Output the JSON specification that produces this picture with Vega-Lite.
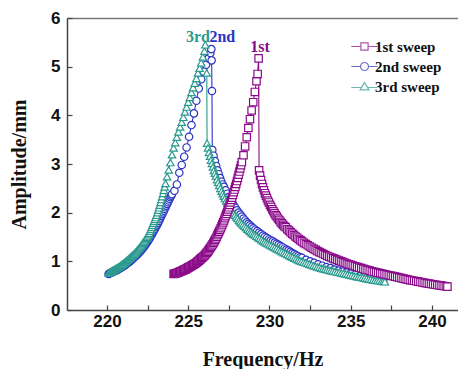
{
  "$schema": "https://vega.github.io/schema/vega-lite/v6.json",
  "width": 391,
  "height": 292,
  "autosize": {"type": "none"},
  "padding": {"left": 67, "top": 18, "right": 0, "bottom": 59},
  "background": "white",
  "config": {"view": {"stroke": null}},
  "data": {"values": [
{"s":"2nd sweep","f":220.10,"a":0.74},{"s":"2nd sweep","f":220.15,"a":0.75},{"s":"2nd sweep","f":220.20,"a":0.76},{"s":"2nd sweep","f":220.25,"a":0.765},{"s":"2nd sweep","f":220.30,"a":0.77},{"s":"2nd sweep","f":220.35,"a":0.78},{"s":"2nd sweep","f":220.40,"a":0.79},{"s":"2nd sweep","f":220.45,"a":0.80},{"s":"2nd sweep","f":220.50,"a":0.81},{"s":"2nd sweep","f":220.55,"a":0.815},
{"s":"2nd sweep","f":220.60,"a":0.82},{"s":"2nd sweep","f":220.65,"a":0.83},{"s":"2nd sweep","f":220.70,"a":0.84},{"s":"2nd sweep","f":220.75,"a":0.85},{"s":"2nd sweep","f":220.80,"a":0.86},{"s":"2nd sweep","f":220.85,"a":0.87},{"s":"2nd sweep","f":220.90,"a":0.88},{"s":"2nd sweep","f":220.95,"a":0.89},{"s":"2nd sweep","f":221.00,"a":0.90},{"s":"2nd sweep","f":221.05,"a":0.91},
{"s":"2nd sweep","f":221.10,"a":0.92},{"s":"2nd sweep","f":221.15,"a":0.935},{"s":"2nd sweep","f":221.20,"a":0.95},{"s":"2nd sweep","f":221.25,"a":0.96},{"s":"2nd sweep","f":221.30,"a":0.97},{"s":"2nd sweep","f":221.35,"a":0.985},{"s":"2nd sweep","f":221.40,"a":1.00},{"s":"2nd sweep","f":221.45,"a":1.015},{"s":"2nd sweep","f":221.50,"a":1.03},{"s":"2nd sweep","f":221.55,"a":1.045},
{"s":"2nd sweep","f":221.60,"a":1.06},{"s":"2nd sweep","f":221.65,"a":1.075},{"s":"2nd sweep","f":221.70,"a":1.09},{"s":"2nd sweep","f":221.75,"a":1.105},{"s":"2nd sweep","f":221.80,"a":1.12},{"s":"2nd sweep","f":221.85,"a":1.135},{"s":"2nd sweep","f":221.90,"a":1.15},{"s":"2nd sweep","f":221.95,"a":1.17},{"s":"2nd sweep","f":222.00,"a":1.19},{"s":"2nd sweep","f":222.05,"a":1.21},
{"s":"2nd sweep","f":222.10,"a":1.23},{"s":"2nd sweep","f":222.15,"a":1.25},{"s":"2nd sweep","f":222.20,"a":1.27},{"s":"2nd sweep","f":222.25,"a":1.29},{"s":"2nd sweep","f":222.30,"a":1.31},{"s":"2nd sweep","f":222.35,"a":1.335},{"s":"2nd sweep","f":222.40,"a":1.36},{"s":"2nd sweep","f":222.45,"a":1.385},{"s":"2nd sweep","f":222.50,"a":1.41},{"s":"2nd sweep","f":222.55,"a":1.435},
{"s":"2nd sweep","f":222.60,"a":1.46},{"s":"2nd sweep","f":222.65,"a":1.49},{"s":"2nd sweep","f":222.70,"a":1.52},{"s":"2nd sweep","f":222.75,"a":1.55},{"s":"2nd sweep","f":222.80,"a":1.58},{"s":"2nd sweep","f":222.85,"a":1.61},{"s":"2nd sweep","f":222.90,"a":1.64},{"s":"2nd sweep","f":222.95,"a":1.67},{"s":"2nd sweep","f":223.00,"a":1.70},{"s":"2nd sweep","f":223.05,"a":1.73},
{"s":"2nd sweep","f":223.10,"a":1.76},{"s":"2nd sweep","f":223.15,"a":1.795},{"s":"2nd sweep","f":223.20,"a":1.83},{"s":"2nd sweep","f":223.25,"a":1.865},{"s":"2nd sweep","f":223.30,"a":1.90},{"s":"2nd sweep","f":223.35,"a":1.935},{"s":"2nd sweep","f":223.40,"a":1.97},{"s":"2nd sweep","f":223.45,"a":2.005},{"s":"2nd sweep","f":223.50,"a":2.04},{"s":"2nd sweep","f":223.55,"a":2.075},
{"s":"2nd sweep","f":223.60,"a":2.11},{"s":"2nd sweep","f":223.65,"a":2.145},{"s":"2nd sweep","f":223.70,"a":2.18},{"s":"2nd sweep","f":223.75,"a":2.215},{"s":"2nd sweep","f":223.80,"a":2.25},{"s":"2nd sweep","f":223.85,"a":2.285},{"s":"2nd sweep","f":223.90,"a":2.32},{"s":"2nd sweep","f":223.95,"a":2.35},{"s":"2nd sweep","f":224.00,"a":2.38},{"s":"2nd sweep","f":224.15,"a":2.45},
{"s":"2nd sweep","f":224.3,"a":2.58},{"s":"2nd sweep","f":224.45,"a":2.82},{"s":"2nd sweep","f":224.6,"a":2.98},{"s":"2nd sweep","f":224.75,"a":3.15},{"s":"2nd sweep","f":224.9,"a":3.34},{"s":"2nd sweep","f":225.05,"a":3.56},{"s":"2nd sweep","f":225.2,"a":3.80},{"s":"2nd sweep","f":225.35,"a":4.04},{"s":"2nd sweep","f":225.5,"a":4.30},{"s":"2nd sweep","f":225.65,"a":4.55},
{"s":"2nd sweep","f":225.8,"a":4.74},{"s":"2nd sweep","f":225.95,"a":4.90},{"s":"2nd sweep","f":226.1,"a":5.04},{"s":"2nd sweep","f":226.25,"a":5.17},{"s":"2nd sweep","f":226.36,"a":5.28},{"s":"2nd sweep","f":226.42,"a":5.36},{"s":"2nd sweep","f":226.44,"a":5.13},{"s":"2nd sweep","f":226.46,"a":4.50},{"s":"2nd sweep","f":226.48,"a":3.29},{"s":"2nd sweep","f":226.56,"a":3.17},
{"s":"2nd sweep","f":226.64,"a":3.06},{"s":"2nd sweep","f":226.72,"a":2.96},{"s":"2nd sweep","f":226.80,"a":2.87},{"s":"2nd sweep","f":226.88,"a":2.79},{"s":"2nd sweep","f":226.96,"a":2.71},{"s":"2nd sweep","f":227.04,"a":2.64},{"s":"2nd sweep","f":227.12,"a":2.58},{"s":"2nd sweep","f":227.20,"a":2.53},{"s":"2nd sweep","f":227.30,"a":2.46},{"s":"2nd sweep","f":227.40,"a":2.39},
{"s":"2nd sweep","f":227.50,"a":2.32},{"s":"2nd sweep","f":227.60,"a":2.26},{"s":"2nd sweep","f":227.70,"a":2.20},{"s":"2nd sweep","f":227.80,"a":2.15},{"s":"2nd sweep","f":227.90,"a":2.10},{"s":"2nd sweep","f":228.00,"a":2.05},{"s":"2nd sweep","f":228.10,"a":2.00},{"s":"2nd sweep","f":228.20,"a":1.96},{"s":"2nd sweep","f":228.30,"a":1.92},{"s":"2nd sweep","f":228.40,"a":1.88},
{"s":"2nd sweep","f":228.50,"a":1.84},{"s":"2nd sweep","f":228.60,"a":1.80},{"s":"2nd sweep","f":228.70,"a":1.77},{"s":"2nd sweep","f":228.80,"a":1.74},{"s":"2nd sweep","f":228.90,"a":1.71},{"s":"2nd sweep","f":229.00,"a":1.68},{"s":"2nd sweep","f":229.12,"a":1.65},{"s":"2nd sweep","f":229.24,"a":1.62},{"s":"2nd sweep","f":229.36,"a":1.59},{"s":"2nd sweep","f":229.48,"a":1.56},
{"s":"2nd sweep","f":229.60,"a":1.53},{"s":"2nd sweep","f":229.72,"a":1.505},{"s":"2nd sweep","f":229.84,"a":1.48},{"s":"2nd sweep","f":229.96,"a":1.455},{"s":"2nd sweep","f":230.08,"a":1.43},{"s":"2nd sweep","f":230.20,"a":1.41},{"s":"2nd sweep","f":230.32,"a":1.385},{"s":"2nd sweep","f":230.44,"a":1.36},{"s":"2nd sweep","f":230.56,"a":1.34},{"s":"2nd sweep","f":230.68,"a":1.315},
{"s":"2nd sweep","f":230.80,"a":1.29},{"s":"2nd sweep","f":230.92,"a":1.265},{"s":"2nd sweep","f":231.04,"a":1.24},{"s":"2nd sweep","f":231.16,"a":1.22},{"s":"2nd sweep","f":231.28,"a":1.195},{"s":"2nd sweep","f":231.40,"a":1.17},{"s":"2nd sweep","f":231.52,"a":1.15},{"s":"2nd sweep","f":231.64,"a":1.125},{"s":"2nd sweep","f":231.76,"a":1.105},{"s":"2nd sweep","f":231.88,"a":1.085},
{"s":"2nd sweep","f":232.00,"a":1.07},{"s":"2nd sweep","f":232.25,"a":1.03},{"s":"2nd sweep","f":232.5,"a":1.00},{"s":"2nd sweep","f":232.75,"a":0.97},{"s":"2nd sweep","f":233.0,"a":0.94},{"s":"2nd sweep","f":233.25,"a":0.91},{"s":"2nd sweep","f":233.5,"a":0.88},{"s":"2nd sweep","f":233.75,"a":0.86},{"s":"2nd sweep","f":234.0,"a":0.83},{"s":"2nd sweep","f":234.25,"a":0.81},
{"s":"2nd sweep","f":234.5,"a":0.79},{"s":"2nd sweep","f":234.75,"a":0.77},{"s":"2nd sweep","f":235.0,"a":0.75},{"s":"2nd sweep","f":235.3,"a":0.73},{"s":"2nd sweep","f":235.6,"a":0.71},{"s":"2nd sweep","f":235.9,"a":0.69},{"s":"2nd sweep","f":236.2,"a":0.66},{"s":"2nd sweep","f":236.5,"a":0.64},{"s":"2nd sweep","f":236.8,"a":0.62},{"s":"2nd sweep","f":237.0,"a":0.60},

{"s":"3rd sweep","f":220.10,"a":0.76},{"s":"3rd sweep","f":220.15,"a":0.77},{"s":"3rd sweep","f":220.20,"a":0.78},{"s":"3rd sweep","f":220.25,"a":0.79},{"s":"3rd sweep","f":220.30,"a":0.80},{"s":"3rd sweep","f":220.35,"a":0.81},{"s":"3rd sweep","f":220.40,"a":0.82},{"s":"3rd sweep","f":220.45,"a":0.83},{"s":"3rd sweep","f":220.50,"a":0.84},{"s":"3rd sweep","f":220.55,"a":0.85},
{"s":"3rd sweep","f":220.60,"a":0.86},{"s":"3rd sweep","f":220.65,"a":0.87},{"s":"3rd sweep","f":220.70,"a":0.88},{"s":"3rd sweep","f":220.75,"a":0.89},{"s":"3rd sweep","f":220.80,"a":0.90},{"s":"3rd sweep","f":220.85,"a":0.915},{"s":"3rd sweep","f":220.90,"a":0.93},{"s":"3rd sweep","f":220.95,"a":0.94},{"s":"3rd sweep","f":221.00,"a":0.95},{"s":"3rd sweep","f":221.05,"a":0.965},
{"s":"3rd sweep","f":221.10,"a":0.98},{"s":"3rd sweep","f":221.15,"a":0.995},{"s":"3rd sweep","f":221.20,"a":1.01},{"s":"3rd sweep","f":221.25,"a":1.025},{"s":"3rd sweep","f":221.30,"a":1.04},{"s":"3rd sweep","f":221.35,"a":1.055},{"s":"3rd sweep","f":221.40,"a":1.07},{"s":"3rd sweep","f":221.45,"a":1.085},{"s":"3rd sweep","f":221.50,"a":1.10},{"s":"3rd sweep","f":221.55,"a":1.115},
{"s":"3rd sweep","f":221.60,"a":1.13},{"s":"3rd sweep","f":221.65,"a":1.145},{"s":"3rd sweep","f":221.70,"a":1.16},{"s":"3rd sweep","f":221.75,"a":1.18},{"s":"3rd sweep","f":221.80,"a":1.20},{"s":"3rd sweep","f":221.85,"a":1.22},{"s":"3rd sweep","f":221.90,"a":1.24},{"s":"3rd sweep","f":221.95,"a":1.26},{"s":"3rd sweep","f":222.00,"a":1.28},{"s":"3rd sweep","f":222.05,"a":1.30},
{"s":"3rd sweep","f":222.10,"a":1.32},{"s":"3rd sweep","f":222.15,"a":1.345},{"s":"3rd sweep","f":222.20,"a":1.37},{"s":"3rd sweep","f":222.25,"a":1.395},{"s":"3rd sweep","f":222.30,"a":1.42},{"s":"3rd sweep","f":222.35,"a":1.445},{"s":"3rd sweep","f":222.40,"a":1.47},{"s":"3rd sweep","f":222.45,"a":1.495},{"s":"3rd sweep","f":222.50,"a":1.52},{"s":"3rd sweep","f":222.55,"a":1.55},
{"s":"3rd sweep","f":222.60,"a":1.58},{"s":"3rd sweep","f":222.65,"a":1.62},{"s":"3rd sweep","f":222.70,"a":1.66},{"s":"3rd sweep","f":222.75,"a":1.70},{"s":"3rd sweep","f":222.80,"a":1.74},{"s":"3rd sweep","f":222.85,"a":1.78},{"s":"3rd sweep","f":222.90,"a":1.82},{"s":"3rd sweep","f":222.95,"a":1.86},{"s":"3rd sweep","f":223.00,"a":1.90},{"s":"3rd sweep","f":223.05,"a":1.95},
{"s":"3rd sweep","f":223.10,"a":2.00},{"s":"3rd sweep","f":223.15,"a":2.05},{"s":"3rd sweep","f":223.20,"a":2.10},{"s":"3rd sweep","f":223.25,"a":2.155},{"s":"3rd sweep","f":223.30,"a":2.21},{"s":"3rd sweep","f":223.35,"a":2.27},{"s":"3rd sweep","f":223.40,"a":2.33},{"s":"3rd sweep","f":223.45,"a":2.395},{"s":"3rd sweep","f":223.50,"a":2.46},{"s":"3rd sweep","f":223.55,"a":2.53},
{"s":"3rd sweep","f":223.60,"a":2.60},{"s":"3rd sweep","f":223.7,"a":2.74},{"s":"3rd sweep","f":223.8,"a":2.88},{"s":"3rd sweep","f":223.9,"a":3.03},{"s":"3rd sweep","f":224.0,"a":3.19},{"s":"3rd sweep","f":224.1,"a":3.33},{"s":"3rd sweep","f":224.2,"a":3.44},{"s":"3rd sweep","f":224.3,"a":3.55},{"s":"3rd sweep","f":224.4,"a":3.66},{"s":"3rd sweep","f":224.5,"a":3.76},
{"s":"3rd sweep","f":224.6,"a":3.86},{"s":"3rd sweep","f":224.7,"a":3.96},{"s":"3rd sweep","f":224.8,"a":4.07},{"s":"3rd sweep","f":224.9,"a":4.17},{"s":"3rd sweep","f":225.0,"a":4.27},{"s":"3rd sweep","f":225.1,"a":4.37},{"s":"3rd sweep","f":225.2,"a":4.47},{"s":"3rd sweep","f":225.3,"a":4.57},{"s":"3rd sweep","f":225.4,"a":4.66},{"s":"3rd sweep","f":225.5,"a":4.76},
{"s":"3rd sweep","f":225.6,"a":4.87},{"s":"3rd sweep","f":225.7,"a":4.97},{"s":"3rd sweep","f":225.8,"a":5.08},{"s":"3rd sweep","f":225.9,"a":5.20},{"s":"3rd sweep","f":226.0,"a":5.32},{"s":"3rd sweep","f":226.05,"a":5.45},{"s":"3rd sweep","f":226.14,"a":4.87},{"s":"3rd sweep","f":226.16,"a":3.43},{"s":"3rd sweep","f":226.22,"a":3.33},{"s":"3rd sweep","f":226.28,"a":3.24},
{"s":"3rd sweep","f":226.34,"a":3.16},{"s":"3rd sweep","f":226.40,"a":3.08},{"s":"3rd sweep","f":226.46,"a":3.01},{"s":"3rd sweep","f":226.52,"a":2.94},{"s":"3rd sweep","f":226.58,"a":2.87},{"s":"3rd sweep","f":226.64,"a":2.81},{"s":"3rd sweep","f":226.70,"a":2.75},{"s":"3rd sweep","f":226.77,"a":2.68},{"s":"3rd sweep","f":226.84,"a":2.62},{"s":"3rd sweep","f":226.91,"a":2.56},
{"s":"3rd sweep","f":226.98,"a":2.50},{"s":"3rd sweep","f":227.05,"a":2.44},{"s":"3rd sweep","f":227.12,"a":2.39},{"s":"3rd sweep","f":227.19,"a":2.34},{"s":"3rd sweep","f":227.26,"a":2.29},{"s":"3rd sweep","f":227.33,"a":2.24},{"s":"3rd sweep","f":227.40,"a":2.20},{"s":"3rd sweep","f":227.48,"a":2.15},{"s":"3rd sweep","f":227.56,"a":2.11},{"s":"3rd sweep","f":227.64,"a":2.07},
{"s":"3rd sweep","f":227.72,"a":2.02},{"s":"3rd sweep","f":227.80,"a":1.98},{"s":"3rd sweep","f":227.88,"a":1.95},{"s":"3rd sweep","f":227.96,"a":1.91},{"s":"3rd sweep","f":228.04,"a":1.88},{"s":"3rd sweep","f":228.12,"a":1.84},{"s":"3rd sweep","f":228.20,"a":1.81},{"s":"3rd sweep","f":228.29,"a":1.78},{"s":"3rd sweep","f":228.38,"a":1.75},{"s":"3rd sweep","f":228.47,"a":1.72},
{"s":"3rd sweep","f":228.56,"a":1.69},{"s":"3rd sweep","f":228.65,"a":1.66},{"s":"3rd sweep","f":228.74,"a":1.635},{"s":"3rd sweep","f":228.83,"a":1.61},{"s":"3rd sweep","f":228.92,"a":1.585},{"s":"3rd sweep","f":229.01,"a":1.56},{"s":"3rd sweep","f":229.10,"a":1.54},{"s":"3rd sweep","f":229.20,"a":1.515},{"s":"3rd sweep","f":229.30,"a":1.49},{"s":"3rd sweep","f":229.40,"a":1.47},
{"s":"3rd sweep","f":229.50,"a":1.445},{"s":"3rd sweep","f":229.60,"a":1.42},{"s":"3rd sweep","f":229.70,"a":1.40},{"s":"3rd sweep","f":229.80,"a":1.38},{"s":"3rd sweep","f":229.90,"a":1.36},{"s":"3rd sweep","f":230.00,"a":1.34},{"s":"3rd sweep","f":230.11,"a":1.32},{"s":"3rd sweep","f":230.22,"a":1.30},{"s":"3rd sweep","f":230.33,"a":1.28},{"s":"3rd sweep","f":230.44,"a":1.26},
{"s":"3rd sweep","f":230.55,"a":1.24},{"s":"3rd sweep","f":230.66,"a":1.22},{"s":"3rd sweep","f":230.77,"a":1.20},{"s":"3rd sweep","f":230.88,"a":1.18},{"s":"3rd sweep","f":230.99,"a":1.16},{"s":"3rd sweep","f":231.10,"a":1.14},{"s":"3rd sweep","f":231.21,"a":1.12},{"s":"3rd sweep","f":231.32,"a":1.10},{"s":"3rd sweep","f":231.43,"a":1.085},{"s":"3rd sweep","f":231.54,"a":1.065},
{"s":"3rd sweep","f":231.65,"a":1.05},{"s":"3rd sweep","f":231.76,"a":1.03},{"s":"3rd sweep","f":231.87,"a":1.015},{"s":"3rd sweep","f":231.98,"a":1.00},{"s":"3rd sweep","f":232.10,"a":0.985},{"s":"3rd sweep","f":232.22,"a":0.97},{"s":"3rd sweep","f":232.34,"a":0.955},{"s":"3rd sweep","f":232.46,"a":0.94},{"s":"3rd sweep","f":232.58,"a":0.925},{"s":"3rd sweep","f":232.70,"a":0.91},
{"s":"3rd sweep","f":232.82,"a":0.90},{"s":"3rd sweep","f":232.94,"a":0.885},{"s":"3rd sweep","f":233.06,"a":0.875},{"s":"3rd sweep","f":233.18,"a":0.86},{"s":"3rd sweep","f":233.30,"a":0.85},{"s":"3rd sweep","f":233.42,"a":0.84},{"s":"3rd sweep","f":233.54,"a":0.83},{"s":"3rd sweep","f":233.66,"a":0.82},{"s":"3rd sweep","f":233.78,"a":0.81},{"s":"3rd sweep","f":233.90,"a":0.80},
{"s":"3rd sweep","f":234.03,"a":0.79},{"s":"3rd sweep","f":234.16,"a":0.78},{"s":"3rd sweep","f":234.29,"a":0.77},{"s":"3rd sweep","f":234.42,"a":0.76},{"s":"3rd sweep","f":234.55,"a":0.75},{"s":"3rd sweep","f":234.68,"a":0.74},{"s":"3rd sweep","f":234.81,"a":0.73},{"s":"3rd sweep","f":234.94,"a":0.72},{"s":"3rd sweep","f":235.07,"a":0.71},{"s":"3rd sweep","f":235.20,"a":0.70},
{"s":"3rd sweep","f":235.33,"a":0.69},{"s":"3rd sweep","f":235.46,"a":0.68},{"s":"3rd sweep","f":235.59,"a":0.675},{"s":"3rd sweep","f":235.72,"a":0.665},{"s":"3rd sweep","f":235.85,"a":0.655},{"s":"3rd sweep","f":235.98,"a":0.645},{"s":"3rd sweep","f":236.11,"a":0.635},{"s":"3rd sweep","f":236.24,"a":0.63},{"s":"3rd sweep","f":236.37,"a":0.62},{"s":"3rd sweep","f":236.50,"a":0.61},
{"s":"3rd sweep","f":236.63,"a":0.605},{"s":"3rd sweep","f":236.76,"a":0.60},{"s":"3rd sweep","f":236.89,"a":0.59},{"s":"3rd sweep","f":237.00,"a":0.585},{"s":"3rd sweep","f":237.10,"a":0.58},

{"s":"1st sweep","f":224.10,"a":0.74},{"s":"1st sweep","f":224.15,"a":0.745},{"s":"1st sweep","f":224.20,"a":0.75},{"s":"1st sweep","f":224.25,"a":0.755},{"s":"1st sweep","f":224.30,"a":0.76},{"s":"1st sweep","f":224.35,"a":0.765},{"s":"1st sweep","f":224.40,"a":0.77},{"s":"1st sweep","f":224.45,"a":0.78},{"s":"1st sweep","f":224.50,"a":0.79},{"s":"1st sweep","f":224.55,"a":0.795},
{"s":"1st sweep","f":224.60,"a":0.80},{"s":"1st sweep","f":224.65,"a":0.81},{"s":"1st sweep","f":224.70,"a":0.82},{"s":"1st sweep","f":224.75,"a":0.825},{"s":"1st sweep","f":224.80,"a":0.83},{"s":"1st sweep","f":224.85,"a":0.84},{"s":"1st sweep","f":224.90,"a":0.85},{"s":"1st sweep","f":224.95,"a":0.86},{"s":"1st sweep","f":225.00,"a":0.87},{"s":"1st sweep","f":225.05,"a":0.88},
{"s":"1st sweep","f":225.10,"a":0.89},{"s":"1st sweep","f":225.15,"a":0.90},{"s":"1st sweep","f":225.20,"a":0.91},{"s":"1st sweep","f":225.25,"a":0.92},{"s":"1st sweep","f":225.30,"a":0.93},{"s":"1st sweep","f":225.35,"a":0.94},{"s":"1st sweep","f":225.40,"a":0.95},{"s":"1st sweep","f":225.45,"a":0.96},{"s":"1st sweep","f":225.50,"a":0.97},{"s":"1st sweep","f":225.55,"a":0.985},
{"s":"1st sweep","f":225.60,"a":1.00},{"s":"1st sweep","f":225.65,"a":1.015},{"s":"1st sweep","f":225.70,"a":1.03},{"s":"1st sweep","f":225.75,"a":1.045},{"s":"1st sweep","f":225.80,"a":1.06},{"s":"1st sweep","f":225.85,"a":1.075},{"s":"1st sweep","f":225.90,"a":1.09},{"s":"1st sweep","f":225.95,"a":1.105},{"s":"1st sweep","f":226.00,"a":1.12},{"s":"1st sweep","f":226.05,"a":1.14},
{"s":"1st sweep","f":226.10,"a":1.16},{"s":"1st sweep","f":226.15,"a":1.18},{"s":"1st sweep","f":226.20,"a":1.20},{"s":"1st sweep","f":226.25,"a":1.225},{"s":"1st sweep","f":226.30,"a":1.25},{"s":"1st sweep","f":226.35,"a":1.275},{"s":"1st sweep","f":226.40,"a":1.30},{"s":"1st sweep","f":226.45,"a":1.325},{"s":"1st sweep","f":226.50,"a":1.35},{"s":"1st sweep","f":226.55,"a":1.38},
{"s":"1st sweep","f":226.60,"a":1.41},{"s":"1st sweep","f":226.65,"a":1.44},{"s":"1st sweep","f":226.70,"a":1.47},{"s":"1st sweep","f":226.75,"a":1.505},{"s":"1st sweep","f":226.80,"a":1.54},{"s":"1st sweep","f":226.85,"a":1.575},{"s":"1st sweep","f":226.90,"a":1.61},{"s":"1st sweep","f":226.95,"a":1.645},{"s":"1st sweep","f":227.00,"a":1.68},{"s":"1st sweep","f":227.05,"a":1.72},
{"s":"1st sweep","f":227.10,"a":1.76},{"s":"1st sweep","f":227.15,"a":1.80},{"s":"1st sweep","f":227.20,"a":1.84},{"s":"1st sweep","f":227.25,"a":1.885},{"s":"1st sweep","f":227.30,"a":1.93},{"s":"1st sweep","f":227.35,"a":1.975},{"s":"1st sweep","f":227.40,"a":2.02},{"s":"1st sweep","f":227.45,"a":2.065},{"s":"1st sweep","f":227.50,"a":2.11},{"s":"1st sweep","f":227.55,"a":2.16},
{"s":"1st sweep","f":227.60,"a":2.21},{"s":"1st sweep","f":227.65,"a":2.26},{"s":"1st sweep","f":227.70,"a":2.31},{"s":"1st sweep","f":227.75,"a":2.365},{"s":"1st sweep","f":227.80,"a":2.42},{"s":"1st sweep","f":227.85,"a":2.475},{"s":"1st sweep","f":227.90,"a":2.53},{"s":"1st sweep","f":227.95,"a":2.59},{"s":"1st sweep","f":228.00,"a":2.65},{"s":"1st sweep","f":228.05,"a":2.715},
{"s":"1st sweep","f":228.10,"a":2.78},{"s":"1st sweep","f":228.15,"a":2.845},{"s":"1st sweep","f":228.20,"a":2.91},{"s":"1st sweep","f":228.25,"a":2.975},{"s":"1st sweep","f":228.30,"a":3.04},{"s":"1st sweep","f":228.4,"a":3.18},{"s":"1st sweep","f":228.5,"a":3.36},{"s":"1st sweep","f":228.6,"a":3.55},{"s":"1st sweep","f":228.7,"a":3.74},{"s":"1st sweep","f":228.8,"a":3.92},
{"s":"1st sweep","f":228.9,"a":4.10},{"s":"1st sweep","f":229.0,"a":4.27},{"s":"1st sweep","f":229.1,"a":4.48},{"s":"1st sweep","f":229.2,"a":4.70},{"s":"1st sweep","f":229.27,"a":4.85},{"s":"1st sweep","f":229.33,"a":5.17},{"s":"1st sweep","f":229.36,"a":2.87},{"s":"1st sweep","f":229.42,"a":2.76},{"s":"1st sweep","f":229.48,"a":2.67},{"s":"1st sweep","f":229.54,"a":2.59},
{"s":"1st sweep","f":229.60,"a":2.52},{"s":"1st sweep","f":229.66,"a":2.46},{"s":"1st sweep","f":229.72,"a":2.40},{"s":"1st sweep","f":229.78,"a":2.35},{"s":"1st sweep","f":229.84,"a":2.30},{"s":"1st sweep","f":229.90,"a":2.25},{"s":"1st sweep","f":229.96,"a":2.21},{"s":"1st sweep","f":230.03,"a":2.16},{"s":"1st sweep","f":230.10,"a":2.12},{"s":"1st sweep","f":230.17,"a":2.07},
{"s":"1st sweep","f":230.24,"a":2.03},{"s":"1st sweep","f":230.31,"a":1.99},{"s":"1st sweep","f":230.38,"a":1.95},{"s":"1st sweep","f":230.45,"a":1.92},{"s":"1st sweep","f":230.52,"a":1.88},{"s":"1st sweep","f":230.60,"a":1.85},{"s":"1st sweep","f":230.68,"a":1.81},{"s":"1st sweep","f":230.76,"a":1.78},{"s":"1st sweep","f":230.84,"a":1.75},{"s":"1st sweep","f":230.92,"a":1.72},
{"s":"1st sweep","f":231.00,"a":1.70},{"s":"1st sweep","f":231.10,"a":1.66},{"s":"1st sweep","f":231.20,"a":1.63},{"s":"1st sweep","f":231.30,"a":1.60},{"s":"1st sweep","f":231.40,"a":1.57},{"s":"1st sweep","f":231.50,"a":1.54},{"s":"1st sweep","f":231.60,"a":1.51},{"s":"1st sweep","f":231.70,"a":1.485},{"s":"1st sweep","f":231.80,"a":1.46},{"s":"1st sweep","f":231.90,"a":1.435},
{"s":"1st sweep","f":232.00,"a":1.41},{"s":"1st sweep","f":232.12,"a":1.38},{"s":"1st sweep","f":232.24,"a":1.355},{"s":"1st sweep","f":232.36,"a":1.33},{"s":"1st sweep","f":232.48,"a":1.305},{"s":"1st sweep","f":232.60,"a":1.28},{"s":"1st sweep","f":232.72,"a":1.255},{"s":"1st sweep","f":232.84,"a":1.235},{"s":"1st sweep","f":232.96,"a":1.21},{"s":"1st sweep","f":233.08,"a":1.19},
{"s":"1st sweep","f":233.20,"a":1.17},{"s":"1st sweep","f":233.32,"a":1.15},{"s":"1st sweep","f":233.44,"a":1.13},{"s":"1st sweep","f":233.56,"a":1.11},{"s":"1st sweep","f":233.68,"a":1.095},{"s":"1st sweep","f":233.80,"a":1.08},{"s":"1st sweep","f":233.92,"a":1.06},{"s":"1st sweep","f":234.04,"a":1.045},{"s":"1st sweep","f":234.16,"a":1.03},{"s":"1st sweep","f":234.28,"a":1.015},
{"s":"1st sweep","f":234.40,"a":1.00},{"s":"1st sweep","f":234.52,"a":0.985},{"s":"1st sweep","f":234.64,"a":0.97},{"s":"1st sweep","f":234.76,"a":0.955},{"s":"1st sweep","f":234.88,"a":0.94},{"s":"1st sweep","f":235.00,"a":0.93},{"s":"1st sweep","f":235.13,"a":0.915},{"s":"1st sweep","f":235.26,"a":0.90},{"s":"1st sweep","f":235.39,"a":0.885},{"s":"1st sweep","f":235.52,"a":0.87},
{"s":"1st sweep","f":235.65,"a":0.86},{"s":"1st sweep","f":235.78,"a":0.845},{"s":"1st sweep","f":235.91,"a":0.83},{"s":"1st sweep","f":236.04,"a":0.82},{"s":"1st sweep","f":236.17,"a":0.81},{"s":"1st sweep","f":236.30,"a":0.795},{"s":"1st sweep","f":236.43,"a":0.785},{"s":"1st sweep","f":236.56,"a":0.775},{"s":"1st sweep","f":236.69,"a":0.765},{"s":"1st sweep","f":236.82,"a":0.755},
{"s":"1st sweep","f":236.95,"a":0.745},{"s":"1st sweep","f":237.08,"a":0.735},{"s":"1st sweep","f":237.21,"a":0.725},{"s":"1st sweep","f":237.34,"a":0.715},{"s":"1st sweep","f":237.47,"a":0.705},{"s":"1st sweep","f":237.60,"a":0.695},{"s":"1st sweep","f":237.73,"a":0.685},{"s":"1st sweep","f":237.86,"a":0.675},{"s":"1st sweep","f":237.99,"a":0.665},{"s":"1st sweep","f":238.12,"a":0.655},
{"s":"1st sweep","f":238.25,"a":0.645},{"s":"1st sweep","f":238.38,"a":0.635},{"s":"1st sweep","f":238.51,"a":0.625},{"s":"1st sweep","f":238.64,"a":0.615},{"s":"1st sweep","f":238.77,"a":0.607},{"s":"1st sweep","f":238.90,"a":0.60},{"s":"1st sweep","f":239.03,"a":0.59},{"s":"1st sweep","f":239.16,"a":0.582},{"s":"1st sweep","f":239.29,"a":0.574},{"s":"1st sweep","f":239.42,"a":0.566},
{"s":"1st sweep","f":239.55,"a":0.558},{"s":"1st sweep","f":239.68,"a":0.55},{"s":"1st sweep","f":239.81,"a":0.542},{"s":"1st sweep","f":239.94,"a":0.535},{"s":"1st sweep","f":240.07,"a":0.528},{"s":"1st sweep","f":240.20,"a":0.52},{"s":"1st sweep","f":240.33,"a":0.513},{"s":"1st sweep","f":240.46,"a":0.506},{"s":"1st sweep","f":240.59,"a":0.50},{"s":"1st sweep","f":240.72,"a":0.494},
{"s":"1st sweep","f":240.85,"a":0.488},{"s":"1st sweep","f":240.95,"a":0.48}
  ]},
  "resolve": {"axis": {"x": "independent"}, "scale": {"shape": "independent", "color": "independent"}},
  "layer": [
    {
      "mark": {"type": "line", "strokeWidth": 1.1},
      "encoding": {
        "x": {"field": "f", "type": "quantitative", "scale": {"domain": [217.54, 241.6], "nice": false, "zero": false}, "axis": null},
        "y": {"field": "a", "type": "quantitative", "scale": {"domain": [0, 6], "nice": false, "zero": true}},
        "stroke": {"field": "s", "type": "nominal", "scale": {"domain": ["1st sweep", "2nd sweep", "3rd sweep"], "range": ["#8A0A8A", "#2B35C4", "#2A9A8E"]}, "legend": null},
        "detail": {"field": "s"}
      }
    },
    {
      "mark": {"type": "point", "filled": true, "fill": "white", "strokeWidth": 1.2, "opacity": 1},
      "encoding": {
        "x": {"field": "f", "type": "quantitative", "scale": {"domain": [217.54, 241.6], "nice": false, "zero": false},
          "axis": {"orient": "bottom", "values": [220, 222.5, 225, 227.5, 230, 232.5, 235, 237.5, 240], "labelExpr": "datum.value % 5 === 0 ? datum.label : ''",
            "labelFont": "Liberation Sans", "labelFontWeight": "bold", "labelFontSize": 17, "labelColor": "#111", "labelFlush": false, "labelPadding": 8,
            "tickSize": -5, "tickColor": "#444", "tickWidth": 1.2, "domainColor": "#444", "domainWidth": 1.5, "grid": false,
            "title": "Frequency/Hz", "titleFont": "Liberation Serif", "titleFontSize": 20, "titleFontWeight": "bold", "titleColor": "#111", "titlePadding": 20}},
        "y": {"field": "a", "type": "quantitative", "scale": {"domain": [0, 6], "nice": false},
          "axis": {"values": [0, 0.5, 1, 1.5, 2, 2.5, 3, 3.5, 4, 4.5, 5, 5.5, 6], "labelExpr": "datum.value % 1 === 0 ? datum.label : ''",
            "labelFont": "Liberation Sans", "labelFontWeight": "bold", "labelFontSize": 17, "labelColor": "#111", "labelPadding": 12, "labelFlush": false,
            "tickSize": -5, "tickColor": "#444", "tickWidth": 1.2, "domainColor": "#444", "domainWidth": 1.5, "grid": false,
            "title": "Amplitude/mm", "titleFont": "Liberation Serif", "titleFontSize": 20, "titleFontWeight": "bold", "titleColor": "#111", "titlePadding": 21}},
        "stroke": {"field": "s", "type": "nominal", "scale": {"domain": ["1st sweep", "2nd sweep", "3rd sweep"], "range": ["#8A0A8A", "#2B35C4", "#2A9A8E"]}, "legend": null},
        "shape": {"field": "s", "type": "nominal", "scale": {"domain": ["1st sweep", "2nd sweep", "3rd sweep"], "range": ["square", "circle", "triangle-up"]}, "legend": null},
        "size": {"value": 55}
      }
    },
    {
      "data": {"values": [
        {"t": "3rd", "f": 225.6, "a": 5.5, "s": "3rd sweep"},
        {"t": "2nd", "f": 227.1, "a": 5.5, "s": "2nd sweep"},
        {"t": "1st", "f": 229.42, "a": 5.3, "s": "1st sweep"}
      ]},
      "mark": {"type": "text", "font": "Liberation Serif", "fontWeight": "bold", "fontSize": 16, "baseline": "alphabetic", "align": "center"},
      "encoding": {
        "x": {"field": "f", "type": "quantitative", "scale": {"domain": [217.54, 241.6], "nice": false, "zero": false},
          "axis": {"orient": "top", "labels": false, "ticks": false, "domain": true, "domainColor": "#777", "domainWidth": 1.5, "grid": false, "title": null}},
        "y": {"field": "a", "type": "quantitative"},
        "text": {"field": "t"},
        "fill": {"field": "s", "type": "nominal", "scale": {"domain": ["1st sweep", "2nd sweep", "3rd sweep"], "range": ["#8A0A8A", "#2B35C4", "#2A9A8E"]}, "legend": null}
      }
    },
    {
      "data": {"values": [
        {"s": "1st sweep", "f": 230, "a": 3},
        {"s": "2nd sweep", "f": 230, "a": 3},
        {"s": "3rd sweep", "f": 230, "a": 3}
      ]},
      "mark": {"type": "point", "filled": false, "strokeWidth": 1.2},
      "encoding": {
        "x": {"field": "f", "type": "quantitative", "axis": null},
        "y": {"field": "a", "type": "quantitative"},
        "size": {"value": 0},
        "color": {"field": "s", "type": "nominal", "scale": {"domain": ["1st sweep", "2nd sweep", "3rd sweep"], "range": ["#8A0A8A", "#2B35C4", "#2A9A8E"]},
          "legend": {"orient": "none", "legendX": 290, "legendY": 21, "title": null, "symbolSize": 64, "symbolStrokeWidth": 1.2,
            "labelFont": "Liberation Serif", "labelFontWeight": "bold", "labelFontSize": 15, "labelColor": "#111", "labelOffset": 3, "rowPadding": 4, "padding": 0}},
        "shape": {"field": "s", "type": "nominal", "scale": {"domain": ["1st sweep", "2nd sweep", "3rd sweep"], "range": [
          "M-3.3,0L-0.9,0M0.9,0L3.3,0M-0.9,-0.9L0.9,-0.9L0.9,0.9L-0.9,0.9Z",
          "M-3.3,0L-1,0M1,0L3.3,0M1,0A1,1 0 1,1 -1,0A1,1 0 1,1 1,0Z",
          "M-3.3,0.25L-0.8,0.25M0.8,0.25L3.3,0.25M0,-1L1.1,0.85L-1.1,0.85Z"]},
          "legend": {"orient": "none", "legendX": 290, "legendY": 21, "title": null, "symbolSize": 64, "symbolStrokeWidth": 1.2,
            "labelFont": "Liberation Serif", "labelFontWeight": "bold", "labelFontSize": 15, "labelColor": "#111", "labelOffset": 3, "rowPadding": 4, "padding": 0}}
      }
    }
  ]
}
